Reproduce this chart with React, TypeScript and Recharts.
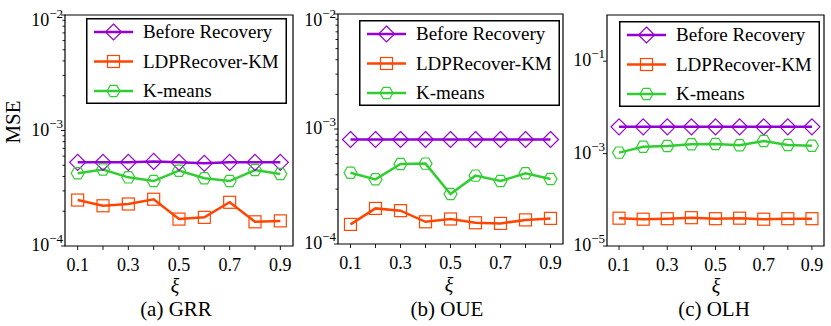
import { Legend, Line, LineChart, ReferenceArea, XAxis, YAxis } from "recharts";

const XI = [0.1, 0.2, 0.3, 0.4, 0.5, 0.6, 0.7, 0.8, 0.9];

const GRR_BEFORE = [5.3e-4, 5.3e-4, 5.3e-4, 5.4e-4, 5.3e-4, 5.2e-4, 5.3e-4, 5.3e-4, 5.3e-4];
const GRR_LDP = [2.5e-4, 2.23e-4, 2.31e-4, 2.54e-4, 1.71e-4, 1.77e-4, 2.39e-4, 1.62e-4, 1.65e-4];
const GRR_KM = [4.26e-4, 4.6e-4, 3.93e-4, 3.65e-4, 4.49e-4, 3.86e-4, 3.65e-4, 4.55e-4, 4.2e-4];

const OUE_BEFORE = [8.1e-4, 8.1e-4, 8.1e-4, 8.1e-4, 8.1e-4, 8.1e-4, 8.1e-4, 8.1e-4, 8.1e-4];
const OUE_LDP = [1.48e-4, 2.04e-4, 1.95e-4, 1.56e-4, 1.65e-4, 1.53e-4, 1.51e-4, 1.62e-4, 1.67e-4];
const OUE_KM = [4.17e-4, 3.65e-4, 4.96e-4, 5.0e-4, 2.72e-4, 3.93e-4, 3.53e-4, 4.12e-4, 3.67e-4];

const OLH_BEFORE = [3.8e-3, 3.8e-3, 3.8e-3, 3.8e-3, 3.8e-3, 3.8e-3, 3.8e-3, 3.8e-3, 3.8e-3];
const OLH_LDP = [4.0e-5, 3.8e-5, 3.9e-5, 4.1e-5, 3.9e-5, 4.0e-5, 3.8e-5, 3.9e-5, 3.9e-5];
const OLH_KM = [1.05e-3, 1.41e-3, 1.46e-3, 1.59e-3, 1.62e-3, 1.51e-3, 1.87e-3, 1.54e-3, 1.48e-3];

const TICKS_A = [
  1e-4, 2e-4, 3e-4, 4e-4, 5e-4, 6e-4, 7e-4, 8e-4, 9e-4,
  1e-3, 2e-3, 3e-3, 4e-3, 5e-3, 6e-3, 7e-3, 8e-3, 9e-3, 1e-2,
];
const TICKS_C = [1e-5, 1e-3, 1e-1];

const SERIES = [
  { key: "before", name: "Before Recovery", color: "#9400D3", marker: "diamond" },
  { key: "ldp", name: "LDPRecover-KM", color: "#FF4500", marker: "square" },
  { key: "km", name: "K-means", color: "#32CD32", marker: "hexagon" },
];

const FONT = "Liberation Serif";

const rows = (before: number[], ldp: number[], km: number[]) =>
  XI.map((xi, i) => ({ xi, before: before[i], ldp: ldp[i], km: km[i] }));

function Marker({ cx, cy, type, color }: any) {
  if (cx == null || cy == null) return null;
  const common = { fill: "none", stroke: color, strokeWidth: 1.2 };
  if (type === "diamond") {
    const r = 8;
    return (
      <polygon
        points={`${cx},${cy - r} ${cx + r},${cy} ${cx},${cy + r} ${cx - r},${cy}`}
        {...common}
      />
    );
  }
  if (type === "square") {
    return <rect x={cx - 6} y={cy - 6} width={12} height={12} {...common} />;
  }
  const r = 6.5;
  const pts = [0, 60, 120, 180, 240, 300]
    .map((a) => {
      const t = (a * Math.PI) / 180;
      return `${cx + r * Math.cos(t)},${cy + r * Math.sin(t)}`;
    })
    .join(" ");
  return <polygon points={pts} {...common} />;
}

function isMajor(v: number) {
  const l = Math.log10(v);
  return Math.abs(l - Math.round(l)) < 1e-6;
}

function YTick({ x, y, payload }: any) {
  const v = payload.value;
  const major = isMajor(v);
  const exp = Math.round(Math.log10(v));
  // the top label sits a little lower in the original
  const base = Math.max(y + 5, 26);
  return (
    <g>
      <line x1={x} x2={x - (major ? 4 : 2.5)} y1={y} y2={y} stroke="#000" strokeWidth={0.9} />
      {major ? (
        <text x={x - 2} y={base} textAnchor="end" style={{ fontFamily: FONT }} fontSize={18} fill="#000">
          10
          <tspan dy={-8} fontSize={13}>
            {"\u2212" + -exp}
          </tspan>
        </text>
      ) : null}
    </g>
  );
}

function XTick({ x, y, payload }: any) {
  const v = payload.value;
  const labelled = Math.round(v * 10) % 2 === 1;
  return (
    <g>
      <line x1={x} x2={x} y1={y} y2={y + 4} stroke="#000" strokeWidth={0.9} />
      {labelled ? (
        <text x={x} y={y + 25} textAnchor="middle" style={{ fontFamily: FONT }} fontSize={18} fill="#000">
          {v.toFixed(1)}
        </text>
      ) : null}
    </g>
  );
}

function LegendBox() {
  return (
    <svg width={201} height={86} style={{ display: "block" }}>
      <rect x={0.75} y={0.75} width={199.5} height={84.5} fill="#fff" stroke="#000" strokeWidth={1.5} />
      {SERIES.map((s, i) => {
        const y = 14 + i * 29.5;
        return (
          <g key={s.key}>
            <line x1={8} x2={47} y1={y} y2={y} stroke={s.color} strokeWidth={2.5} />
            <Marker cx={27.5} cy={y} type={s.marker} color={s.color} />
            <text x={57} y={y + 6} style={{ fontFamily: FONT }} fontSize={19} fill="#000">
              {s.name}
            </text>
          </g>
        );
      })}
    </svg>
  );
}

type PanelProps = {
  left: number;
  width: number;
  plot: { left: number; right: number; top: number; bottom: number };
  domain: [number, number];
  ticks: number[];
  data: any[];
  legend: { left: number; top: number };
};

function Panel({ left, width, plot, domain, ticks, data, legend }: PanelProps) {
  const yw = 30;
  const xh = 30;
  return (
    <div style={{ position: "absolute", left, top: 0 }}>
      <LineChart
        width={width}
        height={326}
        data={data}
        margin={{
          top: plot.top,
          left: plot.left - left - yw,
          right: left + width - plot.right,
          bottom: 326 - plot.bottom - xh,
        }}
      >
        <XAxis
          dataKey="xi"
          type="number"
          domain={[0.05, 0.95]}
          ticks={XI}
          interval={0}
          allowDataOverflow
          height={xh}
          tickSize={0}
          tickMargin={0}
          tickLine={false}
          axisLine={false}
          tick={<XTick />}
        />
        <YAxis
          type="number"
          scale="log"
          domain={domain}
          ticks={ticks}
          interval={0}
          allowDataOverflow
          width={yw}
          tickSize={0}
          tickMargin={0}
          tickLine={false}
          axisLine={false}
          tick={<YTick />}
        />
        <ReferenceArea
          x1={0.05}
          x2={0.95}
          y1={domain[0]}
          y2={domain[1]}
          fill="none"
          stroke="#000"
          strokeWidth={1.2}
          ifOverflow="visible"
        />
        {SERIES.map((s) => (
          <Line
            key={s.key}
            dataKey={s.key}
            name={s.name}
            type="linear"
            stroke={s.color}
            strokeWidth={2.5}
            isAnimationActive={false}
            activeDot={false}
            dot={(p: any) => (
              <Marker key={`${s.key}-${p.index}`} cx={p.cx} cy={p.cy} type={s.marker} color={s.color} />
            )}
          />
        ))}
        <Legend
          layout="vertical"
          align="center"
          verticalAlign="middle"
          content={<LegendBox />}
          wrapperStyle={{ left: legend.left - left, top: legend.top, width: 201, height: 86 }}
        />
      </LineChart>
    </div>
  );
}

const label = (text: string, x: number, y: number, size: number, extra: any = {}) => (
  <div
    style={{
      position: "absolute",
      left: x,
      top: y,
      transform: "translate(-50%, -50%)",
      fontFamily: FONT,
      fontSize: size,
      whiteSpace: "nowrap",
      lineHeight: 1,
      ...extra,
    }}
  >
    {text}
  </div>
);

export default function App() {
  return (
    <div style={{ position: "relative", width: 831, height: 326, background: "#fff", overflow: "hidden", fontFamily: FONT }}>
      <style>{"body{margin:0}"}</style>
      <Panel
        left={0}
        width={300}
        plot={{ left: 65, right: 293, top: 15, bottom: 246 }}
        domain={[1e-4, 1e-2]}
        ticks={TICKS_A}
        data={rows(GRR_BEFORE, GRR_LDP, GRR_KM)}
        legend={{ left: 86, top: 18 }}
      />
      <Panel
        left={290}
        width={280}
        plot={{ left: 338, right: 563, top: 14, bottom: 244 }}
        domain={[1e-4, 1e-2]}
        ticks={TICKS_A}
        data={rows(OUE_BEFORE, OUE_LDP, OUE_KM)}
        legend={{ left: 359, top: 20 }}
      />
      <Panel
        left={555}
        width={276}
        plot={{ left: 607, right: 824, top: 15, bottom: 246 }}
        domain={[1e-5, 1]}
        ticks={TICKS_C}
        data={rows(OLH_BEFORE, OLH_LDP, OLH_KM)}
        legend={{ left: 619, top: 21 }}
      />
      {label("MSE", 13, 122, 21, { transform: "translate(-50%, -50%) rotate(-90deg)" })}
      {label("ξ", 175, 286, 20, { fontStyle: "italic" })}
      {label("ξ", 449, 285, 20, { fontStyle: "italic" })}
      {label("ξ", 716, 286, 20, { fontStyle: "italic" })}
      {label("(a) GRR", 176, 309, 21)}
      {label("(b) OUE", 447, 309, 21)}
      {label("(c) OLH", 714, 309, 21)}
    </div>
  );
}
